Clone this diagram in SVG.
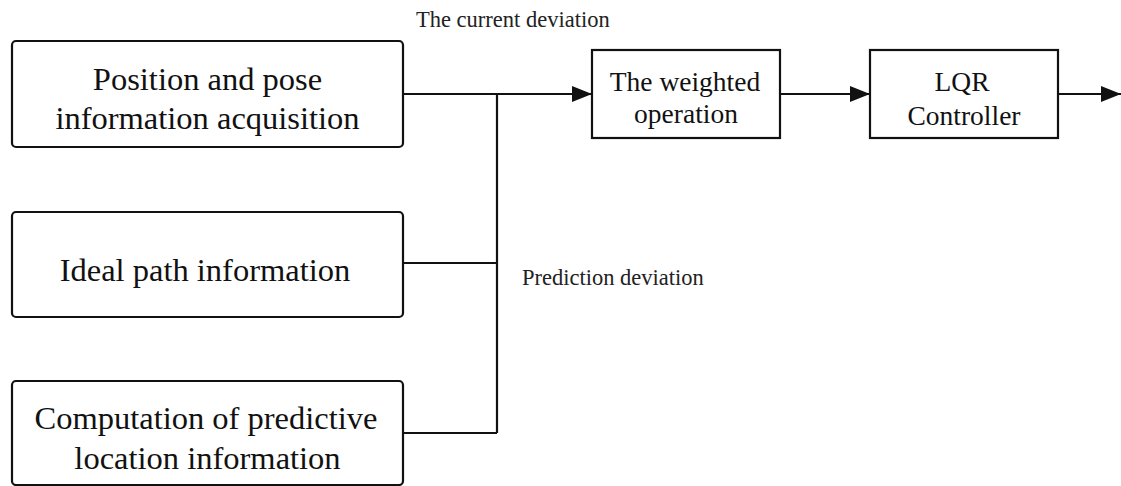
<svg xmlns="http://www.w3.org/2000/svg" width="1121" height="486" viewBox="0 0 1121 486">
<style>
.box{fill:#fff;stroke:#111;stroke-width:2.2}
.big{font-family:"Liberation Serif","Times New Roman",serif;font-size:32.5px;fill:#111;text-anchor:middle}
.mid{font-family:"Liberation Serif","Times New Roman",serif;font-size:27.5px;fill:#111;text-anchor:middle}
.lbl{font-family:"Liberation Serif","Times New Roman",serif;font-size:22.5px;fill:#222}
.wire{fill:none;stroke:#111;stroke-width:2.2}
</style>
<defs>
<marker id="arr" markerUnits="userSpaceOnUse" markerWidth="20" markerHeight="16" viewBox="0 0 20 16" refX="20" refY="8" orient="auto">
<path d="M0,0 L20,8 L0,16 Z" fill="#111"/>
</marker>
</defs>
<rect width="1121" height="486" fill="#fff"/>
<g id="n1">
<rect class="box" x="12" y="41" width="391" height="106" rx="4"/>
<text class="big" x="207.5" y="90">Position and pose</text>
<text class="big" x="207.5" y="129">information acquisition</text>
</g>
<g id="n2">
<rect class="box" x="12" y="212" width="391" height="105" rx="4"/>
<text class="big" x="205" y="281">Ideal path information</text>
</g>
<g id="n3">
<rect class="box" x="12" y="381" width="391" height="104" rx="4"/>
<text class="big" x="206" y="429">Computation of predictive</text>
<text class="big" x="207.5" y="469">location information</text>
</g>
<g id="n4">
<rect class="box" x="592" y="50" width="188" height="88"/>
<text class="mid" x="685" y="91">The weighted</text>
<text class="mid" x="686" y="123">operation</text>
</g>
<g id="n5">
<rect class="box" x="870" y="50" width="188" height="88"/>
<text class="mid" x="962" y="91">LQR</text>
<text class="mid" x="964" y="125">Controller</text>
</g>
<g id="labels">
<text class="lbl" x="416" y="27">The current deviation</text>
<text class="lbl" x="522" y="285">Prediction deviation</text>
</g>
<g id="connectors">
<path class="wire" d="M403,94 L592,94" marker-end="url(#arr)"/>
<path class="wire" d="M497,94 L497,433"/>
<path class="wire" d="M403,263 L497,263"/>
<path class="wire" d="M403,433 L497,433"/>
<path class="wire" d="M780,94 L870,94" marker-end="url(#arr)"/>
<path class="wire" d="M1058,94 L1121,94" marker-end="url(#arr)"/>
</g>
</svg>
